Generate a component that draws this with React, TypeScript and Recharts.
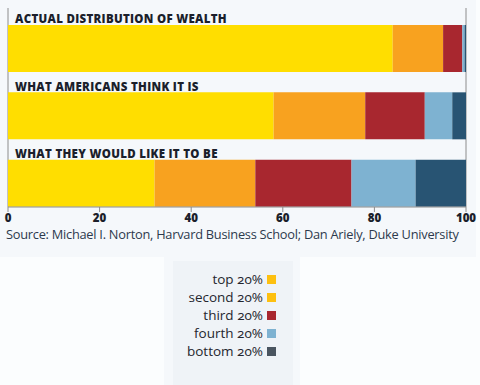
import { Bar, BarChart, CartesianGrid, Legend, XAxis, YAxis } from 'recharts'

const groups = ['ACTUAL DISTRIBUTION OF WEALTH', 'WHAT AMERICANS THINK IT IS', 'WHAT THEY WOULD LIKE IT TO BE']
const top20 = [84, 58, 32]
const second20 = [11, 20, 22]
const third20 = [4.2, 13, 21]
const fourth20 = [0.5, 6, 14]
const bottom20 = [0.3, 3, 11]
const seriesNames = ['top 20%', 'second 20%', 'third 20%', 'fourth 20%', 'bottom 20%']
const seriesKeys = ['top', 'second', 'third', 'fourth', 'bottom']
const barColors = ['#ffde00', '#f8a21f', '#a8272f', '#7eb2d1', '#285473']
const legendColors = ['#fdc010', '#fdc010', '#a8272f', '#7eb2d1', '#4a5560']
const xTicks = [0, 20, 40, 60, 80, 100]
const source = 'Source: Michael I. Norton, Harvard Business School; Dan Ariely, Duke University'

const data = groups.map((group, i) => ({
  group,
  top: top20[i],
  second: second20[i],
  third: third20[i],
  fourth: fourth20[i],
  bottom: bottom20[i],
}))

const frame = '#8c8c8c'

function GroupTitle(props: any) {
  const { y, payload } = props
  return (
    <text
      x={15}
      y={y - 25.5}
      fontFamily='Open Sans'
      fontWeight={800}
      fontSize={11.5}
      letterSpacing={0.3}
      fill='#1b1f2b'
    >
      {payload.value}
    </text>
  )
}

function LegendBox(props: any) {
  const { payload = [] } = props
  // keep the series order, top 20% first
  const items = seriesNames
    .map((name) => payload.find((p: any) => p.value === name))
    .filter(Boolean)
  return (
    <div style={{ fontFamily: 'Open Sans', fontSize: 13.5, color: '#24262e', fontVariantNumeric: 'oldstyle-nums' }}>
      {items.map((entry: any) => (
        <div key={entry.value} style={{ display: 'flex', justifyContent: 'flex-end', alignItems: 'center', height: 18 }}>
          <span>{entry.value}</span>
          <span
            style={{
              width: 9,
              height: 9,
              marginLeft: 4,
              background: legendColors[seriesNames.indexOf(entry.value)],
            }}
          />
        </div>
      ))}
    </div>
  )
}

export default function App() {
  return (
    <div style={{ position: 'absolute', left: 0, top: 0, width: 480, height: 385, background: '#fbfdfe', overflow: 'hidden' }}>
      <div style={{ position: 'absolute', left: 0, top: 0, width: 476, height: 257, background: '#f5f8fb' }} />
      <div style={{ position: 'absolute', left: 164, top: 257, width: 136, height: 128, background: '#f5f8fb' }} />
      <div style={{ position: 'absolute', left: 173, top: 261, width: 120, height: 124, background: '#eff3f7' }} />
      <div
        style={{
          position: 'absolute',
          left: 6,
          top: 225,
          fontFamily: 'Open Sans',
          fontSize: 12.8,
          letterSpacing: -0.25,
          color: '#2d3a4d',
          whiteSpace: 'nowrap',
        }}
      >
        {source}
      </div>
      <div style={{ position: 'absolute', left: 0, top: 0 }}>
        <BarChart
          width={480}
          height={385}
          data={data}
          layout='vertical'
          margin={{ top: 8, right: 14, bottom: 155, left: 7 }}
        >
          <CartesianGrid
            horizontal={false}
            stroke={frame}
            strokeDasharray=''
            verticalCoordinatesGenerator={({ offset }: any) => [offset.left, offset.left + offset.width]}
          />
          <XAxis
            type='number'
            domain={[0, 100]}
            ticks={xTicks}
            height={23}
            axisLine={{ stroke: frame }}
            tickLine={{ stroke: frame }}
            tickSize={5}
            tick={{ fontFamily: 'Open Sans', fontWeight: 800, fontSize: 11.5, fill: '#1b1f2b' }}
          />
          <XAxis
            xAxisId='top'
            orientation='top'
            type='number'
            domain={[0, 100]}
            height={0}
            tick={false}
            tickLine={false}
            axisLine={{ stroke: frame }}
          />
          <YAxis
            type='category'
            dataKey='group'
            width={1}
            axisLine={false}
            tickLine={false}
            padding={{ top: 7, bottom: -10 }}
            tick={(p: any) => <GroupTitle {...p} />}
          />
          {seriesKeys.map((key, i) => (
            <Bar
              key={key}
              dataKey={key}
              name={seriesNames[i]}
              stackId='w'
              fill={barColors[i]}
              barSize={47}
              isAnimationActive={false}
            />
          ))}
          <Legend
            layout='vertical'
            align='center'
            verticalAlign='middle'
            wrapperStyle={{ top: 270, left: 0, width: 276 }}
            content={<LegendBox />}
          />
        </BarChart>
      </div>
    </div>
  )
}
